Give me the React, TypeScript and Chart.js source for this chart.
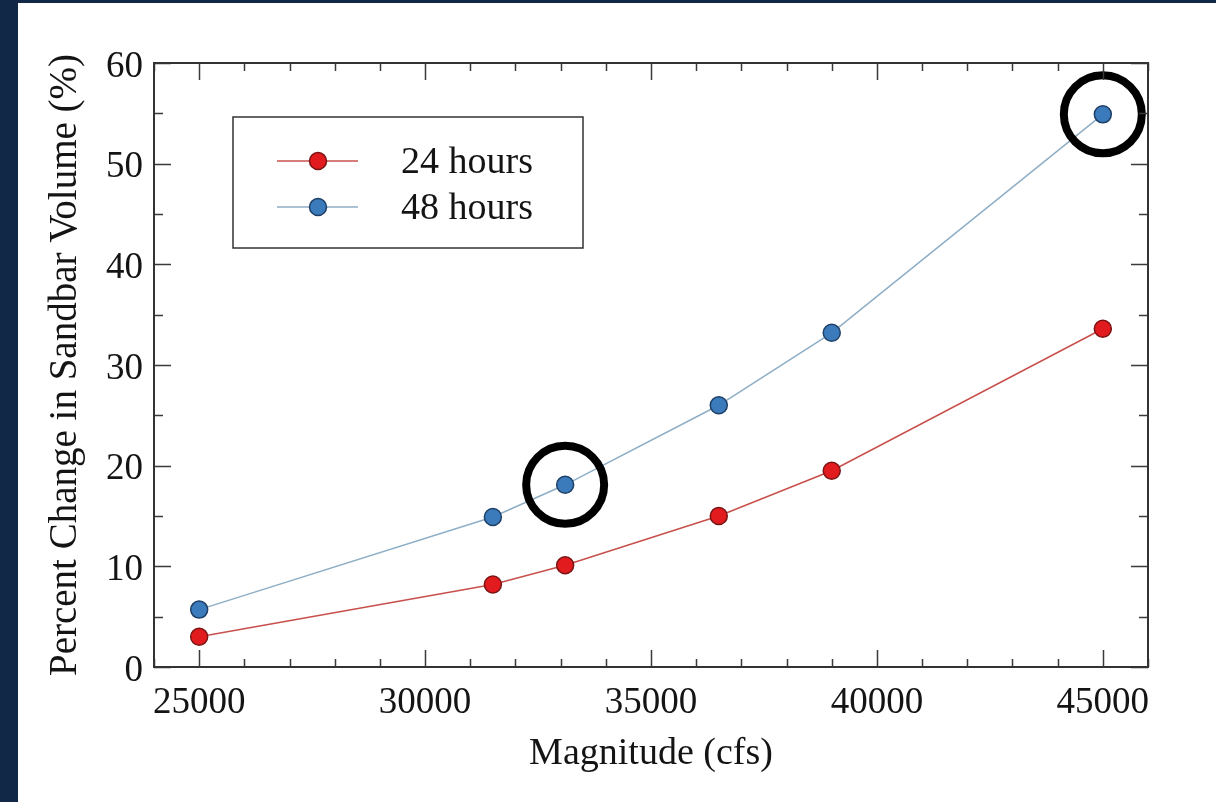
import React, { useEffect, useRef } from "react";
import { Chart, registerables } from "chart.js";

Chart.register(...registerables);

const magnitudes = [25000, 31500, 33100, 36500, 39000, 45000];
const hours24 = [3.0, 8.2, 10.1, 15.0, 19.5, 33.6];
const hours48 = [5.7, 14.9, 18.1, 26.0, 33.2, 54.9];
const highlightX = [33100, 45000];
const highlightY = [18.1, 54.9];
const xTickLabels = [25000, 30000, 35000, 40000, 45000];
const yTickLabels = [0, 10, 20, 30, 40, 50, 60];
const seriesLabels = ["24 hours", "48 hours"];

const FONT = "'Liberation Serif', 'Times New Roman', serif";
const TEXT = "#141414";

const framePlugin = {
  id: "frame",
  beforeDraw(chart: any) {
    const { ctx, width, height } = chart;
    ctx.save();
    ctx.fillStyle = "#ffffff";
    ctx.fillRect(0, 0, width, height);
    ctx.fillStyle = "#112846";
    ctx.fillRect(0, 0, 18, height);
    ctx.fillRect(0, 0, width, 3);
    ctx.restore();
  },
  afterDatasetsDraw(chart: any) {
    const { ctx, chartArea } = chart;
    const xs = chart.scales.x;
    const ys = chart.scales.y;
    ctx.save();
    ctx.strokeStyle = "#3a3a3a";
    ctx.lineWidth = 1.5;
    for (let v = xs.min; v <= xs.max; v += 1000) {
      const px = Math.round(xs.getPixelForValue(v)) + 0.5;
      const len = v % 5000 === 0 ? 17 : 8;
      ctx.beginPath();
      ctx.moveTo(px, chartArea.bottom);
      ctx.lineTo(px, chartArea.bottom - len);
      ctx.moveTo(px, chartArea.top);
      ctx.lineTo(px, chartArea.top + len);
      ctx.stroke();
    }
    for (let v = ys.min; v <= ys.max; v += 5) {
      const py = Math.round(ys.getPixelForValue(v)) + 0.5;
      const len = v % 10 === 0 ? 17 : 9;
      ctx.beginPath();
      ctx.moveTo(chartArea.left, py);
      ctx.lineTo(chartArea.left + len, py);
      ctx.moveTo(chartArea.right, py);
      ctx.lineTo(chartArea.right - len, py);
      ctx.stroke();
    }
    ctx.lineWidth = 2;
    ctx.strokeStyle = "#333333";
    ctx.strokeRect(chartArea.left, chartArea.top, chartArea.right - chartArea.left, chartArea.bottom - chartArea.top);

    // legend
    const bx = 233, by = 117, bw = 350, bh = 131;
    ctx.fillStyle = "#ffffff";
    ctx.fillRect(bx, by, bw, bh);
    ctx.lineWidth = 1.5;
    ctx.strokeStyle = "#333333";
    ctx.strokeRect(bx, by, bw, bh);
    const rows = [161, 207];
    chart.data.datasets.slice(0, 2).forEach((ds: any, i: number) => {
      const y = rows[i];
      ctx.strokeStyle = ds.borderColor;
      ctx.lineWidth = 1.5;
      ctx.beginPath();
      ctx.moveTo(277, y);
      ctx.lineTo(358, y);
      ctx.stroke();
      ctx.beginPath();
      ctx.arc(318, y, 8.5, 0, Math.PI * 2);
      ctx.fillStyle = ds.pointBackgroundColor;
      ctx.fill();
      ctx.strokeStyle = ds.pointBorderColor;
      ctx.lineWidth = 1.5;
      ctx.stroke();
      ctx.fillStyle = TEXT;
      ctx.font = `38px ${FONT}`;
      ctx.textBaseline = "middle";
      ctx.textAlign = "left";
      ctx.fillText(ds.label, 401, y + 2);
    });
    ctx.restore();
  },
};

export default function App() {
  const ref = useRef<HTMLCanvasElement>(null);
  useEffect(() => {
    if (!ref.current) return;
    const chart = new Chart(ref.current, {
      type: "scatter",
      data: {
        datasets: [
          {
            label: seriesLabels[0],
            data: magnitudes.map((x, i) => ({ x, y: hours24[i] })),
            showLine: true,
            borderColor: "#c8504c",
            borderWidth: 1.5,
            pointRadius: 8.5,
            pointBackgroundColor: "#e21b1f",
            pointBorderColor: "#7a1414",
            pointBorderWidth: 1.5,
            order: 2,
          },
          {
            label: seriesLabels[1],
            data: magnitudes.map((x, i) => ({ x, y: hours48[i] })),
            showLine: true,
            borderColor: "#8eaec6",
            borderWidth: 1.5,
            pointRadius: 8.5,
            pointBackgroundColor: "#3b7abb",
            pointBorderColor: "#1e3f66",
            pointBorderWidth: 1.5,
            order: 1,
          },
          {
            label: "highlight",
            data: highlightX.map((x, i) => ({ x, y: highlightY[i] })),
            showLine: false,
            pointRadius: 39,
            pointBackgroundColor: "rgba(0,0,0,0)",
            pointBorderColor: "#000000",
            pointBorderWidth: 8,
            order: 0,
          },
        ],
      },
      options: {
        animation: false,
        responsive: false,
        layout: { padding: { left: 0, top: 63, right: 68, bottom: 0 } },
        plugins: { legend: { display: false }, tooltip: { enabled: false } },
        scales: {
          x: {
            type: "linear",
            min: 24000,
            max: 46000,
            afterBuildTicks: (s: any) => {
              s.ticks = xTickLabels.map((v) => ({ value: v }));
            },
            afterFit: (s: any) => {
              s.height = 135;
            },
            grid: { display: false, drawTicks: false },
            border: { display: false },
            ticks: {
              autoSkip: false,
              maxRotation: 0,
              padding: 14,
              color: TEXT,
              font: { family: FONT, size: 37 },
              callback: (v: any) => String(v),
            },
            title: {
              display: true,
              text: "Magnitude (cfs)",
              color: TEXT,
              font: { family: FONT, size: 38 },
              padding: { top: 0, bottom: 25 },
            },
          },
          y: {
            type: "linear",
            min: 0,
            max: 60,
            afterBuildTicks: (s: any) => {
              s.ticks = yTickLabels.map((v) => ({ value: v }));
            },
            afterFit: (s: any) => {
              s.width = 154;
            },
            grid: { display: false, drawTicks: false },
            border: { display: false },
            ticks: {
              autoSkip: false,
              padding: 11,
              labelOffset: 4,
              color: TEXT,
              font: { family: FONT, size: 37 },
              callback: (v: any) => String(v),
            },
            title: {
              display: true,
              text: "Percent Change in Sandbar Volume (%)",
              color: TEXT,
              font: { family: FONT, size: 39 },
              padding: { top: 42, bottom: 0 },
            },
          },
        },
      },
      plugins: [framePlugin],
    } as any);
    return () => chart.destroy();
  }, []);
  return (
    <div style={{ position: "fixed", left: 0, top: 0, width: 1216, height: 802 }}>
      <canvas ref={ref} width={1216} height={802} style={{ display: "block", width: 1216, height: 802 }} />
    </div>
  );
}
